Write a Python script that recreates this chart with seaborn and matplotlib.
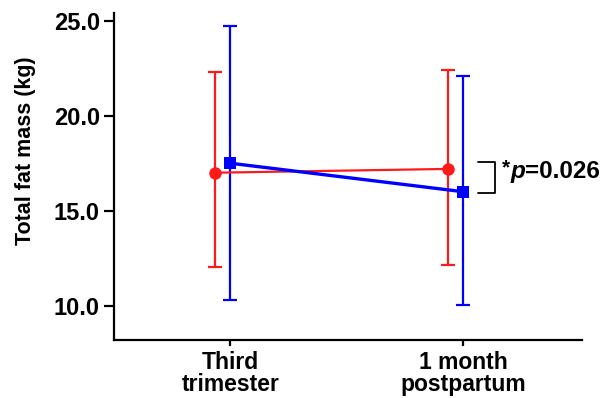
import pandas as pd
import seaborn as sns
import matplotlib.pyplot as plt

# values
timepoints = ["Third\ntrimester", "1 month\npostpartum"]
red_mean = [17.0, 17.2]
red_low = [12.05, 12.15]
red_high = [22.3, 22.4]
blue_mean = [17.5, 16.0]
blue_low = [10.3, 10.05]
blue_high = [24.7, 22.1]

sns.set_style("ticks")
plt.rcParams['font.family'] = ['Liberation Sans', 'DejaVu Sans']
plt.rcParams['font.weight'] = 'bold'
plt.rcParams['text.color'] = 'black'
plt.rcParams['axes.labelcolor'] = 'black'
plt.rcParams['xtick.color'] = 'black'
plt.rcParams['ytick.color'] = 'black'

fig = plt.figure(figsize=(6.05, 3.98), dpi=100)
ax = fig.add_axes([0.188, 0.146, 0.774, 0.821])

pos = [0, 1]
red_x = [p - 0.065 for p in pos]
blue_x = [p + 0.0 for p in pos]

df = pd.DataFrame({
    "x": red_x + blue_x,
    "mean": red_mean + blue_mean,
    "group": ["red"] * 2 + ["blue"] * 2,
})

# error bars
ax.errorbar(red_x, red_mean,
            yerr=[[m - l for m, l in zip(red_mean, red_low)],
                  [h - m for m, h in zip(red_mean, red_high)]],
            fmt="none", ecolor="#ff1a1a", elinewidth=1.6, capsize=5, capthick=1.6, zorder=2)
ax.errorbar(blue_x, blue_mean,
            yerr=[[m - l for m, l in zip(blue_mean, blue_low)],
                  [h - m for m, h in zip(blue_mean, blue_high)]],
            fmt="none", ecolor="#0000ff", elinewidth=1.6, capsize=5, capthick=1.6, zorder=3)

sns.lineplot(data=df[df.group == "red"], x="x", y="mean", color="#ff1a1a",
             marker="o", markersize=9, markeredgewidth=0, linewidth=1.6,
             ax=ax, zorder=4)
sns.lineplot(data=df[df.group == "blue"], x="x", y="mean", color="#0000ff",
             marker="s", markersize=9, markeredgewidth=0, linewidth=2.4,
             ax=ax, zorder=5)

ax.set_xlim(-0.5, 1.51)
ax.set_ylim(8.2, 25.4)
ax.set_xticks(pos)
ax.set_xticklabels(timepoints, fontsize=16.5, fontweight="bold", linespacing=0.95)
ax.set_yticks([10, 15, 20, 25])
ax.set_yticklabels(["10.0", "15.0", "20.0", "25.0"], fontsize=17, fontweight="bold")
ax.set_xlabel("")
ax.set_ylabel("Total fat mass (kg)", fontsize=15.5, fontweight="bold")
ax.yaxis.set_label_coords(-0.167, 0.58)
ax.tick_params(axis="y", length=7, width=1.6, color="black", pad=3)
ax.tick_params(axis="x", length=4, width=1.6, color="black", pad=4)
for s in ["left", "bottom"]:
    ax.spines[s].set_linewidth(1.6)
    ax.spines[s].set_color("black")
sns.despine(ax=ax)

# significance bracket
ax.plot([1.064, 1.137, 1.137, 1.064], [17.58, 17.58, 15.95, 15.95],
        color="black", linewidth=1.3, clip_on=False)
t1 = ax.text(1.165, 16.95, "*", fontsize=15, fontweight="bold", va="baseline")
t2 = ax.annotate("p", xy=(1, 0), xycoords=t1, xytext=(0.5, -4), textcoords="offset points",
                 fontsize=17.5, fontweight="bold", fontstyle="italic", va="bottom")
ax.annotate("=0.026", xy=(1, 0), xycoords=t2, fontsize=17.5, fontweight="bold", va="bottom",
            xytext=(0, 0), textcoords="offset points")

plt.savefig("out.png", dpi=100)
